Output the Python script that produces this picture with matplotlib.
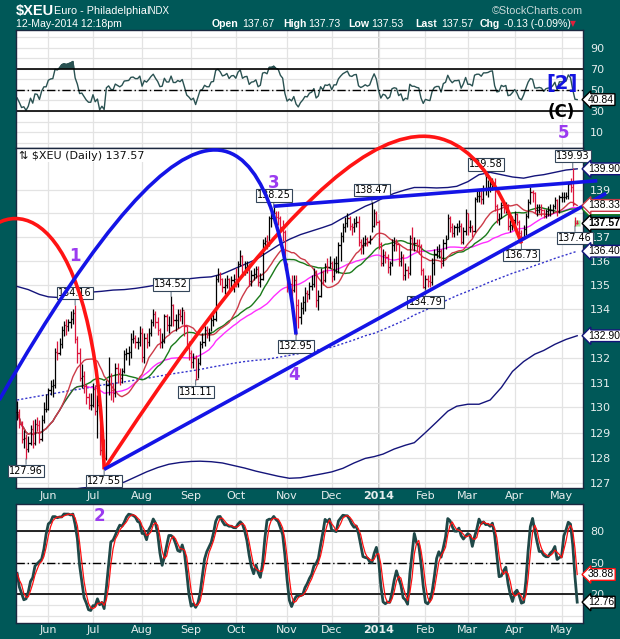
import numpy as np
import pandas as pd
import matplotlib
matplotlib.use("Agg")
import matplotlib.pyplot as plt
from matplotlib.path import Path
from matplotlib.patches import PathPatch
from matplotlib.ticker import NullLocator

# ---- data -------------------------------------------------------------
holidays = ["2013-05-27", "2013-07-04", "2013-09-02", "2013-11-28", "2013-12-25",
            "2014-01-01", "2014-01-20", "2014-02-17", "2014-04-18", "2014-05-26"]

closes = [129.80, 129.35, 128.75, 128.80, 128.35,
          128.60, 129.15, 128.60, 129.35, 129.30,
          128.75, 129.50, 129.95, 129.95,
          130.70, 130.85, 130.90, 132.25, 132.20,
          132.55, 133.15, 133.35, 133.30, 133.45,
          133.60, 133.85, 132.75, 132.20, 131.20,
          131.25, 130.85, 130.40, 130.10, 130.10,
          130.75, 129.85, 130.10, 128.30,
          128.65, 128.00, 130.90, 131.25, 130.70,
          130.60, 131.60, 131.40, 131.20, 131.45,
          132.15, 132.20, 132.25, 132.75, 132.80,
          132.65, 132.65, 133.00, 132.05, 132.80,
          132.65, 133.00, 133.45, 133.80, 133.45,
          133.15, 132.65, 132.70, 133.70, 133.35,
          133.35, 134.15, 133.55, 133.55, 133.80,
          133.70, 133.95, 133.30, 132.45, 132.20,
          131.85, 132.00, 131.15, 131.80,
          132.55, 132.65, 133.15, 133.00, 133.00,
          133.55, 133.60, 135.25, 135.45, 135.25,
          134.90, 135.00, 135.25, 134.85, 135.20,
          135.25, 135.05, 135.85, 136.20, 135.55,
          135.75, 135.80, 135.15, 135.40, 135.45,
          135.65, 135.10, 135.25, 136.75, 136.85,
          136.75, 137.80, 137.80, 138.00, 137.85,
          137.80, 137.40, 137.20, 135.85, 134.85,
          135.05, 134.80, 135.20, 134.15, 133.65,
          134.05, 134.30, 134.65, 134.60, 134.95,
          135.05, 135.40, 134.35, 134.55, 135.55,
          135.20, 135.80, 135.75, 135.90,
          135.35, 135.90, 135.90, 136.65, 137.05,
          137.40, 137.60, 137.80, 137.45, 137.40,
          137.60, 137.65, 136.80, 136.65, 136.75,
          136.90, 136.80, 136.90, 137.45,
          138.00, 137.65, 136.70, 135.90,
          136.25, 136.15, 135.75, 135.90, 136.65,
          136.75, 136.70, 136.00, 136.15, 135.40,
          135.60, 135.50, 136.95, 136.75,
          136.75, 136.65, 136.60, 135.60, 134.90,
          135.25, 135.15, 135.10, 135.90, 136.30,
          136.40, 136.40, 135.90, 136.75, 136.90,
          137.80, 137.40, 137.15, 137.40,
          137.40, 137.45, 136.80, 137.25, 138.00,
          137.40, 137.40, 137.25, 138.60, 138.75,
          138.75, 138.60, 139.05, 139.05, 139.10,
          139.25, 139.30, 138.30, 137.75, 137.80,
          138.35, 138.25, 138.35, 137.45, 137.50,
          137.70, 137.95, 137.65, 137.15, 137.00,
          137.35, 137.90, 138.50, 138.90, 138.85,
          138.15, 138.15, 138.20, 138.15,
          137.90, 138.10, 138.15, 138.15, 138.30,
          138.55, 138.10, 138.70, 138.70, 138.70,
          138.75, 139.25, 139.10, 138.40, 137.60,
          137.57]

highs = [130.25, 129.95, 129.45, 129.10, 128.95,
         128.85, 129.30, 129.50, 129.55, 129.60,
         129.50, 129.70, 130.20, 130.55,
         130.80, 131.10, 131.15, 132.40, 132.70,
         132.80, 133.30, 133.50, 133.60, 133.60,
         133.90, 134.00, 134.16, 132.90, 132.40,
         131.75, 131.45, 130.95, 130.60, 130.60,
         131.00, 130.90, 130.50, 129.40,
         128.90, 128.75, 131.10, 132.05, 131.40,
         131.00, 131.80, 131.80, 131.60, 131.60,
         132.30, 132.40, 132.50, 133.00, 133.15,
         132.95, 132.85, 133.30, 133.20, 133.00,
         133.00, 133.20, 133.60, 134.00, 133.90,
         133.65, 133.20, 133.00, 133.80, 133.80,
         133.70, 134.52, 134.20, 133.80, 134.00,
         134.00, 134.10, 133.90, 133.30, 132.70,
         132.30, 132.20, 132.10, 132.00,
         132.70, 133.00, 133.30, 133.30, 133.20,
         133.80, 133.80, 135.40, 135.70, 135.55,
         135.30, 135.30, 135.40, 135.30, 135.35,
         135.45, 135.70, 136.00, 136.45, 136.25,
         136.00, 136.00, 135.90, 135.60, 135.70,
         135.80, 135.80, 135.50, 136.90, 137.00,
         137.10, 137.90, 138.05, 138.25, 138.10,
         138.10, 137.90, 137.70, 137.30, 135.90,
         135.30, 135.40, 135.40, 135.40, 134.40,
         134.30, 134.55, 134.90, 134.80, 135.10,
         135.40, 135.70, 135.60, 134.80, 135.70,
         135.60, 135.90, 136.10, 136.20,
         136.00, 136.10, 136.20, 136.80, 137.20,
         137.60, 137.85, 138.00, 137.90, 137.60,
         137.80, 137.90, 137.90, 136.90, 137.00,
         137.10, 137.00, 137.10, 138.47,
         138.20, 138.10, 137.70, 136.80,
         136.50, 136.40, 136.30, 136.00, 136.90,
         137.00, 136.90, 136.70, 136.40, 136.30,
         135.90, 135.80, 137.10, 137.40,
         137.00, 136.90, 136.90, 136.70, 135.70,
         135.40, 135.40, 135.40, 136.10, 136.50,
         136.60, 136.70, 136.50, 136.90, 137.10,
         137.95, 137.90, 137.60, 137.50,
         137.60, 137.70, 137.60, 137.40, 138.20,
         138.00, 137.70, 137.50, 138.70, 139.00,
         139.00, 139.00, 139.20, 139.58, 139.40,
         139.40, 139.50, 139.50, 138.40, 138.00,
         138.50, 138.50, 138.50, 138.40, 137.70,
         137.90, 138.10, 138.00, 137.70, 137.30,
         137.50, 138.00, 138.60, 139.10, 139.00,
         138.90, 138.40, 138.40, 138.40,
         138.20, 138.20, 138.30, 138.40, 138.40,
         138.70, 138.60, 138.80, 138.90, 138.90,
         138.90, 139.30, 139.50, 139.93, 137.85,
         137.73]

lows = [129.50, 129.20, 128.60, 128.40, 127.96,
        128.25, 128.50, 128.40, 128.50, 129.05,
        128.60, 128.65, 129.40, 129.80,
        129.90, 130.50, 130.40, 130.80, 131.90,
        132.10, 132.40, 132.90, 132.95, 133.10,
        133.20, 133.40, 132.60, 131.80, 131.05,
        130.80, 130.60, 130.15, 129.95, 129.90,
        130.00, 129.70, 128.80, 128.10,
        128.05, 127.55, 127.90, 130.50, 130.30,
        130.20, 130.40, 131.00, 130.90, 131.00,
        131.40, 131.90, 131.70, 132.00, 132.60,
        132.40, 132.35, 132.50, 131.85, 131.80,
        132.40, 132.50, 132.90, 133.30, 133.20,
        132.95, 132.40, 132.40, 132.60, 133.10,
        133.00, 133.30, 133.30, 133.10, 133.20,
        133.50, 133.40, 132.90, 132.30, 131.90,
        131.60, 131.60, 131.11, 131.20,
        131.70, 132.40, 132.50, 132.80, 132.70,
        133.10, 133.30, 133.50, 135.10, 135.00,
        134.70, 134.60, 134.85, 134.70, 134.80,
        134.70, 134.90, 134.90, 135.80, 135.40,
        135.40, 135.50, 134.95, 134.95, 135.20,
        135.30, 134.95, 134.90, 135.20, 136.50,
        136.50, 136.60, 137.40, 137.60, 137.60,
        137.50, 137.20, 136.85, 135.60, 134.70,
        134.65, 134.40, 134.70, 132.95, 133.20,
        133.40, 133.80, 133.90, 134.30, 134.40,
        134.80, 134.90, 134.10, 133.95, 134.50,
        135.00, 135.10, 135.50, 135.70,
        135.10, 135.20, 135.50, 135.50, 136.00,
        136.80, 137.20, 137.40, 137.30, 137.10,
        137.20, 137.40, 136.60, 136.30, 136.30,
        136.60, 136.60, 136.70, 137.20,
        137.40, 137.50, 136.50, 135.80,
        135.80, 135.90, 135.50, 135.40, 135.80,
        136.40, 136.40, 135.80, 135.80, 135.20,
        135.20, 135.30, 135.40, 136.50,
        136.40, 136.40, 136.30, 135.40, 134.85,
        134.79, 134.90, 134.90, 135.00, 135.40,
        136.10, 136.10, 135.70, 135.80, 136.50,
        136.90, 137.20, 137.00, 137.00,
        137.10, 137.20, 136.70, 136.70, 137.10,
        137.10, 137.20, 137.00, 137.20, 138.50,
        138.50, 138.40, 138.40, 138.80, 138.70,
        138.90, 139.00, 138.10, 137.60, 137.50,
        137.80, 138.00, 138.00, 137.30, 137.20,
        137.30, 137.50, 137.50, 137.00, 136.73,
        136.90, 137.10, 137.80, 138.40, 138.50,
        138.00, 137.90, 138.00, 137.90,
        137.80, 137.80, 137.90, 137.90, 138.00,
        138.20, 137.90, 138.00, 138.50, 138.50,
        138.60, 138.60, 138.90, 138.30, 137.46,
        137.53]

# weekly readings of the long-term lines (200-day average and its bands)
band_dates = ["2013-05-13", "2013-05-20", "2013-05-28", "2013-06-03", "2013-06-10", "2013-06-17",
              "2013-06-24", "2013-07-01", "2013-07-08", "2013-07-15", "2013-07-22", "2013-07-29",
              "2013-08-05", "2013-08-12", "2013-08-19", "2013-08-26", "2013-09-03", "2013-09-09",
              "2013-09-16", "2013-09-23", "2013-09-30", "2013-10-07", "2013-10-14", "2013-10-21",
              "2013-10-28", "2013-11-04", "2013-11-11", "2013-11-18", "2013-11-25", "2013-12-02",
              "2013-12-09", "2013-12-16", "2013-12-23", "2013-12-30", "2014-01-06", "2014-01-13",
              "2014-01-21", "2014-01-27", "2014-02-03", "2014-02-10", "2014-02-18", "2014-02-24",
              "2014-03-03", "2014-03-10", "2014-03-17", "2014-03-24", "2014-03-31", "2014-04-07",
              "2014-04-14", "2014-04-21", "2014-04-28", "2014-05-05", "2014-05-12"]
upper_band = [134.93, 134.80, 134.60, 134.50, 134.47, 134.55, 134.62, 134.70, 134.73, 134.78,
              134.80, 134.85, 134.92, 135.00, 135.10, 135.20, 135.26, 135.30, 135.33, 135.45,
              135.65, 135.85, 136.05, 136.35, 136.65, 136.90, 137.10, 137.25, 137.40, 137.53,
              137.80, 138.05, 138.30, 138.45, 138.65, 138.85, 139.00, 139.10, 139.10, 139.08,
              139.10, 139.15, 139.35, 139.65, 139.75, 139.65, 139.55, 139.50, 139.60, 139.65,
              139.75, 139.85, 139.90]
lower_band = [126.30, 126.35, 126.45, 126.55, 126.65, 126.75, 126.82, 126.86, 126.88, 126.92,
              127.05, 127.25, 127.45, 127.62, 127.75, 127.82, 127.86, 127.87, 127.85, 127.80,
              127.70, 127.60, 127.48, 127.38, 127.28, 127.20, 127.22, 127.30, 127.38, 127.45,
              127.59, 127.80, 127.98, 128.05, 128.15, 128.35, 128.50, 128.60, 129.00, 129.42,
              129.85, 130.05, 130.13, 130.13, 130.30, 130.80, 131.45, 131.85, 132.15, 132.30,
              132.55, 132.75, 132.90]
sma200 = [130.30, 130.38, 130.46, 130.52, 130.60, 130.68, 130.75, 130.83, 130.90, 130.96,
          131.03, 131.10, 131.17, 131.25, 131.33, 131.40, 131.47, 131.53, 131.62, 131.70,
          131.78, 131.85, 131.90, 131.94, 132.02, 132.10, 132.18, 132.27, 132.36, 132.43,
          132.58, 132.73, 132.90, 133.00, 133.15, 133.35, 133.55, 133.75, 133.95, 134.17,
          134.38, 134.55, 134.73, 134.92, 135.12, 135.30, 135.48, 135.63, 135.80, 135.93,
          136.10, 136.25, 136.40]

high_marks = ["2013-06-19", "2013-08-20", "2013-10-24", "2013-12-27", "2014-03-13", "2014-05-08"]
low_marks = ["2013-05-17", "2013-07-09", "2013-09-05", "2013-11-07", "2014-02-03", "2014-04-04",
             "2014-05-09"]

# price axis labels hidden behind value tags on the original
price_ticks = [127, 128, 129, 130, 131, 132, 133, 134, 135, 136, 137, 138, 139]
price_tick_labels = ["127", "128", "129", "130", "131", "132", "", "134", "135", "136", "137", "", "139"]

# hand-drawn wave arcs: (start, control, control, end) as (date, price)
red_arc_left = [("2013-04-18", 136.87), ("2013-05-08", 138.79), ("2013-07-02", 138.57), ("2013-07-09", 127.55)]
red_arc_right = [("2013-07-09", 127.55), ("2013-12-16", 143.47), ("2014-02-24", 144.37), ("2014-04-04", 136.73)]
blue_arc = [("2013-05-01", 130.30), ("2013-09-11", 145.45), ("2013-10-23", 142.34), ("2013-11-07", 132.95)]
lower_trend = [("2013-07-09", 127.55), ("2014-05-30", 138.85)]
upper_trend = [("2013-10-24", 138.30), ("2014-05-23", 139.39)]

# ---- calendar ----------------------------------------------------------
hol = pd.to_datetime(holidays)
cal = pd.bdate_range("2013-04-01", "2014-06-30")
cal = cal[~cal.isin(hol)]
days = cal[(cal >= "2013-05-13") & (cal <= "2014-05-12")]
first = cal.get_loc(days[0])


def pos(d):
    return cal.get_loc(pd.Timestamp(d)) - first


assert len(closes) == len(highs) == len(lows) == len(days)
x = np.arange(len(days))
c = np.array(closes)
hi = np.array(highs)
lo = np.array(lows)
prev = np.r_[c[0], c[:-1]]
bar_col = np.where(c >= prev, "black", "#DC143C")

sma20 = pd.Series(c).rolling(20, min_periods=1).mean().values
sma30 = pd.Series(c).rolling(30, min_periods=1).mean().values
sma50 = pd.Series(c).rolling(50, min_periods=1).mean().values

# Wilder RSI 14, started from the level seen at the left edge
gain_avg, loss_avg = 0.14, 0.19
rsi = []
for i in range(len(c)):
    d = c[i] - prev[i]
    gain_avg = (gain_avg * 13 + max(d, 0)) / 14
    loss_avg = (loss_avg * 13 + max(-d, 0)) / 14
    rsi.append(100 - 100 / (1 + gain_avg / loss_avg))
rsi = np.array(rsi)

hh = pd.Series(hi).rolling(14, min_periods=1).max()
ll = pd.Series(lo).rolling(14, min_periods=1).min()
fast_k = 100 * (pd.Series(c) - ll) / (hh - ll)
slow_k = fast_k.rolling(3, min_periods=1).mean().values
slow_d = pd.Series(slow_k).rolling(3, min_periods=1).mean().values

month_pos, month_lab = [], []
for i in range(1, len(days)):
    if days[i].month != days[i - 1].month:
        month_pos.append(i)
        month_lab.append("2014" if days[i].month == 1 else days[i].strftime("%b"))

# ---- figure --------------------------------------------------------------
TEAL = "#005858"
FRAME = "#1b2840"
GRID = "#e3e3e3"
LABEL = "#e6eeee"
ARIAL = "Liberation Sans"
W, H = 620, 639
fig = plt.figure(figsize=(6.2, 6.39), dpi=100)
fig.patch.set_facecolor(TEAL)


def place(l, t, r, b):
    return [l / W, 1 - b / H, (r - l) / W, (b - t) / H]


ax_rsi = fig.add_axes(place(16, 29.5, 583, 148))
ax = fig.add_axes(place(16, 148, 583, 488))
ax_sto = fig.add_axes(place(16, 503.5, 583, 622.5))

for a in (ax_rsi, ax, ax_sto):
    a.set_facecolor("white")
    a.set_xlim(-0.5, 253.6)
    for s in a.spines.values():
        s.set_color(FRAME)
        s.set_linewidth(1)
    a.set_xticks(month_pos)
    a.tick_params(axis="both", length=0, labelsize=8)
    a.tick_params(axis="y", colors=LABEL, pad=5)
    a.tick_params(axis="x", colors=LABEL, pad=2)
    a.yaxis.tick_right()
    a.grid(True, axis="x", color=GRID, lw=0.9)
    a.axvline(month_pos[month_lab.index("2014")], color="#b8b8b8", lw=1.1, zorder=0.5)


def tag(a, val, col, bold=False, z=10):
    a.text(1.009, val, f"{val:.2f}", transform=a.get_yaxis_transform(), fontsize=7.5, family=ARIAL,
           fontweight="bold" if bold else "normal", va="center", ha="left", zorder=z, color="black",
           bbox=dict(boxstyle="larrow,pad=0.08", fc="white", ec=col, lw=1))


# header
fig.text(16 / W, 1 - 11 / H, "$XEU", color="white", fontsize=10.5, fontweight="bold", va="center", family=ARIAL)
fig.text(54 / W, 1 - 11 / H, "Euro - Philadelphia", color="white", fontsize=7.8, va="center", family=ARIAL)
fig.text(146 / W, 1 - 11 / H, "INDX", color="white", fontsize=7, va="center", family=ARIAL)
fig.text(16 / W, 1 - 24 / H, "12-May-2014 12:18pm", color="white", fontsize=7.6, va="center", family=ARIAL)
fig.text(583 / W, 1 - 11 / H, "\u00a9StockCharts.com", color="#c8d8d8", fontsize=7.8, va="center",
         ha="right", family=ARIAL)
quote = [("Open", True, 212), ("137.67", False, 242), ("High", True, 283), ("137.73", False, 308),
         ("Low", True, 348), ("137.53", False, 371), ("Last", True, 415), ("137.57", False, 441),
         ("Chg", True, 480), ("-0.13 (-0.09%)", False, 504)]
for txt, bold, xp in quote:
    fig.text(xp / W, 1 - 24 / H, txt, color="white", fontsize=7.6, family=ARIAL,
             fontweight="bold" if bold else "normal", va="center")
fig.text(570 / W, 1 - 24 / H, "\u25bc", color="#e0203c", fontsize=5.5, va="center")

# ---- RSI panel ---------------------------------------------------------------
ax_rsi.set_ylim(-5.2, 107.5)
ax_rsi.set_yticks([10, 30, 50, 70, 90])
ax_rsi.set_yticks(range(0, 101, 10), minor=True)
ax_rsi.grid(True, axis="y", which="both", color=GRID, lw=0.9)
ax_rsi.tick_params(which="minor", length=0)
ax_rsi.set_xticklabels([])
ax_rsi.plot(x, rsi, color="#2a5252", lw=1)
ax_rsi.fill_between(x, 70, rsi, where=rsi > 70, color="#2a5252", interpolate=True)
ax_rsi.fill_between(x, 30, rsi, where=rsi < 30, color="#2a5252", interpolate=True)
ax_rsi.axhline(70, color="black", lw=1.2)
ax_rsi.axhline(30, color="black", lw=1.2)
ax_rsi.axhline(50, color="black", lw=1, ls=(0, (6, 2, 1, 2)))
tag(ax_rsi, rsi[-1], "black")
ax_rsi.text(pos("2014-05-01"), 56, "[2]", color="#1414e0", fontsize=14, fontweight="bold", ha="center", va="center")
ax_rsi.text(pos("2014-05-01"), 29, "(C)", color="black", fontsize=12, fontweight="bold", ha="center", va="center")
ax_rsi.text(pos("2014-05-02"), 9, "5", color="#9b3bf0", fontsize=12, fontweight="bold", ha="center", va="center")

# ---- price panel ---------------------------------------------------------------
ax.set_yscale("log")
ax.set_ylim(126.82, 140.8)
ax.set_yticks(price_ticks)
ax.set_yticklabels(price_tick_labels)
ax.yaxis.set_minor_locator(NullLocator())
ax.grid(True, axis="y", color=GRID, lw=0.9)
ax.set_xticklabels(month_lab)
for t in ax.get_xticklabels():
    if t.get_text() == "2014":
        t.set_fontweight("bold")

bx = [pos(d) for d in band_dates]
ax.plot(bx, upper_band, color="#14147a", lw=1)
ax.plot(bx, lower_band, color="#14147a", lw=1)
ax.plot(bx, sma200, color="#3333cc", lw=1, ls=(0, (1.5, 1.5)))
ax.plot(x, sma50, color="#ff2eff", lw=1)
ax.plot(x, sma30, color="#1a7a1a", lw=1)
ax.plot(x, sma20, color="#cc3b48", lw=1)

ax.vlines(x, lo, hi, colors=bar_col, lw=0.9, zorder=3)
ax.hlines(c, x, x + 0.55, colors=bar_col, lw=0.9, zorder=3)
ax.hlines(prev, x - 0.55, x, colors=bar_col, lw=0.9, zorder=3)
ax.plot(x[-1], c[-1], marker="s", ms=4, mfc="#9fe89f", mec="none", zorder=2)

lab_box = dict(boxstyle="square,pad=0.12", fc="white", ec="#34465a", lw=0.8)
for d in high_marks:
    i = pos(d)
    ax.annotate(f"{hi[i]:.2f}", xy=(i, hi[i]), xytext=(0, 5), textcoords="offset points",
                ha="center", va="bottom", fontsize=7, bbox=lab_box, zorder=6,
                arrowprops=dict(arrowstyle="-", color="#6a7a8a", lw=0.8, shrinkA=0, shrinkB=0))
for d in low_marks:
    i = pos(d)
    ax.annotate(f"{lo[i]:.2f}", xy=(i, lo[i]), xytext=(0, -5), textcoords="offset points",
                ha="center", va="top", fontsize=7, bbox=lab_box, zorder=6,
                arrowprops=dict(arrowstyle="-", color="#6a7a8a", lw=0.8, shrinkA=0, shrinkB=0))

ax.text(0.006, 0.992, "\u21c5 $XEU (Daily) 137.57", transform=ax.transAxes, fontsize=8,
        va="top", ha="left", color="#111111", zorder=7,
        bbox=dict(boxstyle="square,pad=0.1", fc="white", ec="none"))

# right-hand value tags (the 30-day tag sits mostly hidden behind the 20-day one)
tag(ax, upper_band[-1], "#14147a", z=10)
tag(ax, sma30[-1], "#1a7a1a", z=11)
tag(ax, sma20[-1], "#cc3b48", z=12)
tag(ax, sma200[-1], "#14147a", z=13)
tag(ax, lower_band[-1], "#14147a", z=14)
tag(ax, c[-1], "black", bold=True, z=15)

# wave drawings
def curve(pts, color):
    verts = [(pos(d), p) for d, p in pts]
    path = Path(verts, [Path.MOVETO, Path.CURVE4, Path.CURVE4, Path.CURVE4])
    ax.add_patch(PathPatch(path, fc="none", ec=color, lw=2.6, clip_on=False, zorder=8))


curve(red_arc_left, "#ff1414")
curve(red_arc_right, "#ff1414")
curve(blue_arc, "#1414e6")
for seg in (lower_trend, upper_trend):
    ax.plot([pos(d) for d, p in seg], [p for d, p in seg], color="#1414e6", lw=2.6,
            clip_on=False, zorder=8, solid_capstyle="butt")

purple = "#9b3bf0"
ax.text(pos("2013-06-19"), 136.2, "1", color=purple, fontsize=12, fontweight="bold", ha="center", va="center", zorder=9)
ax.text(pos("2013-10-24"), 139.3, "3", color=purple, fontsize=12, fontweight="bold", ha="center", va="center", zorder=9)
ax.text(pos("2013-11-06"), 131.3, "4", color=purple, fontsize=12, fontweight="bold", ha="center", va="center", zorder=9)

# ---- slow stochastic panel -------------------------------------------------------
ax_sto.set_ylim(-6.5, 106)
ax_sto.set_yticks([20, 50, 80])
ax_sto.set_yticks(range(0, 101, 10), minor=True)
ax_sto.grid(True, axis="y", which="both", color=GRID, lw=0.9)
ax_sto.tick_params(which="minor", length=0)
ax_sto.set_xticklabels(month_lab)
for t in ax_sto.get_xticklabels():
    if t.get_text() == "2014":
        t.set_fontweight("bold")
ax_sto.axhline(80, color="black", lw=1.2)
ax_sto.axhline(20, color="black", lw=1.2)
ax_sto.axhline(50, color="black", lw=1, ls=(0, (6, 2, 1, 2)))
ax_sto.plot(x, slow_k, color="#1f4848", lw=2)
ax_sto.plot(x, slow_d, color="#ff1010", lw=0.9)
tag(ax_sto, slow_d[-1], "#ff1010")
tag(ax_sto, slow_k[-1], "black")
ax_sto.text(pos("2013-07-05"), 94, "2", color=purple, fontsize=12, fontweight="bold", ha="center", va="center")

fig.savefig("out.png", dpi=100, facecolor=TEAL)
